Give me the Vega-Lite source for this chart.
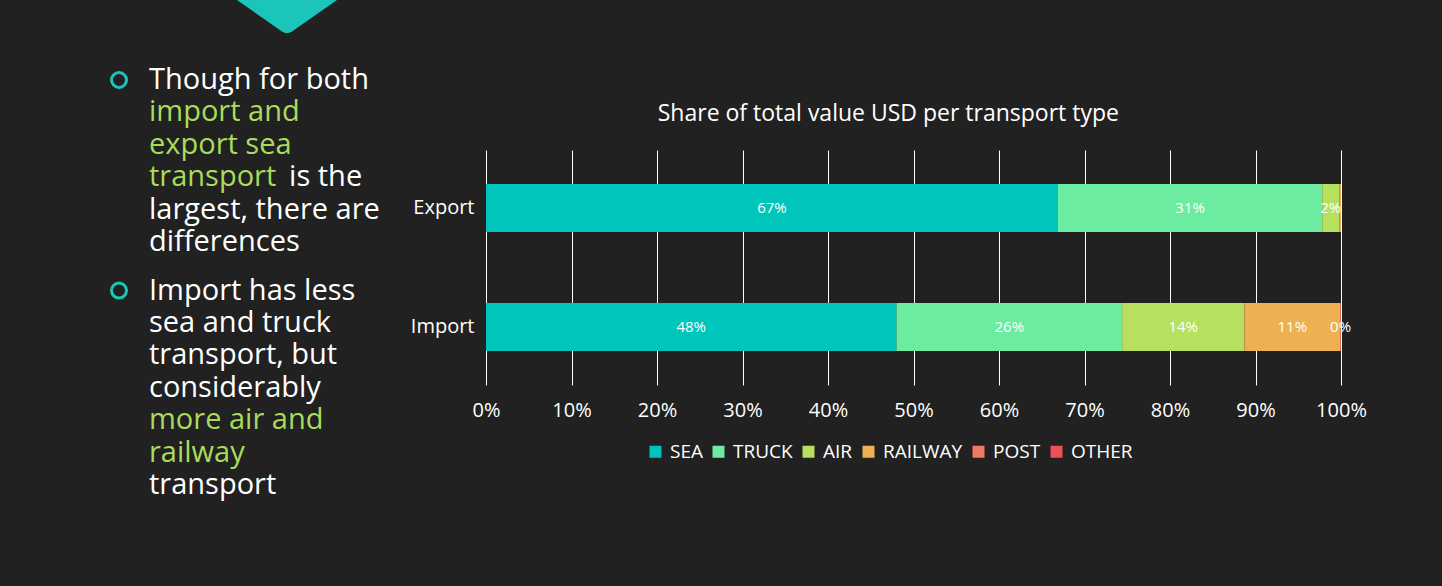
{
  "$schema": "https://vega.github.io/schema/vega-lite/v6.json",
  "background": "#212121",
  "padding": {"left": 89, "top": 0, "right": 90, "bottom": 10},
  "autosize": {"type": "pad"},
  "spacing": 0,
  "bounds": "flush",
  "resolve": {"scale": {"color": "independent"}, "legend": {"color": "independent"}},
  "config": {
    "view": {"stroke": null},
    "font": "Open Sans",
    "text": {"font": "Open Sans"}
  },
  "datasets": {
    "bars": [
      {"flow": "Export", "mode": "SEA", "ord": 1, "pct": 66.9},
      {"flow": "Export", "mode": "TRUCK", "ord": 2, "pct": 30.9},
      {"flow": "Export", "mode": "AIR", "ord": 3, "pct": 2.0},
      {"flow": "Export", "mode": "RAILWAY", "ord": 4, "pct": 0.2},
      {"flow": "Import", "mode": "SEA", "ord": 1, "pct": 48.0},
      {"flow": "Import", "mode": "TRUCK", "ord": 2, "pct": 26.4},
      {"flow": "Import", "mode": "AIR", "ord": 3, "pct": 14.3},
      {"flow": "Import", "mode": "RAILWAY", "ord": 4, "pct": 11.2},
      {"flow": "Import", "mode": "POST", "ord": 5, "pct": 0.1}
    ],
    "notes": [
      {"line": 0, "text": "Though for both", "style": "plain", "part": 1},
      {"line": 1, "text": "import and", "style": "highlight", "part": 1},
      {"line": 2, "text": "export sea", "style": "highlight", "part": 1},
      {"line": 3, "text": "transport", "style": "highlight", "part": 1},
      {"line": 3, "text": "is the", "style": "plain", "part": 2},
      {"line": 4, "text": "largest, there are", "style": "plain", "part": 1},
      {"line": 5, "text": "differences", "style": "plain", "part": 1},
      {"line": 6.5, "text": "Import has less", "style": "plain", "part": 1},
      {"line": 7.5, "text": "sea and truck", "style": "plain", "part": 1},
      {"line": 8.5, "text": "transport, but", "style": "plain", "part": 1},
      {"line": 9.5, "text": "considerably", "style": "plain", "part": 1},
      {"line": 10.5, "text": "more air and", "style": "highlight", "part": 1},
      {"line": 11.5, "text": "railway", "style": "highlight", "part": 1},
      {"line": 12.5, "text": "transport", "style": "plain", "part": 1}
    ],
    "bullets": [
      {"line": 0},
      {"line": 6.5}
    ]
  },
  "hconcat": [
    {
      "width": 397,
      "height": 436,
      "layer": [
        {
          "data": {"values": [{"shape": "chevron"}]},
          "mark": {
            "type": "point",
            "shape": "M-1,0L1,0L0.1,0.63Q0,0.7,-0.1,0.63Z",
            "filled": true,
            "opacity": 1,
            "color": "#1cc5b9",
            "size": 10000,
            "strokeWidth": 0
          },
          "encoding": {
            "x": {"datum": 6.6, "type": "quantitative", "scale": {"domain": [0, 13.2333], "nice": false, "zero": false}, "axis": null},
            "y": {"datum": -2.469, "type": "quantitative", "scale": {"domain": [2.1605, 15.6173], "nice": false, "zero": false, "reverse": true}, "axis": null}
          }
        },
        {
          "data": {"name": "bullets"},
          "mark": {"type": "point", "shape": "circle", "filled": false, "opacity": 1, "color": "#1cc5b9", "strokeWidth": 3, "size": 225},
          "encoding": {
            "x": {"datum": 1, "type": "quantitative", "scale": {"domain": [0, 13.2333], "nice": false, "zero": false}, "axis": null},
            "y": {"field": "line", "type": "quantitative", "scale": {"domain": [2.1605, 15.6173], "nice": false, "zero": false, "reverse": true}, "axis": null}
          }
        },
        {
          "data": {"name": "notes"},
          "transform": [{"filter": "datum.style == 'plain' && datum.part == 1"}],
          "mark": {"type": "text", "align": "left", "baseline": "middle", "fontSize": 29, "color": "#ffffff"},
          "encoding": {
            "x": {"datum": 2, "type": "quantitative", "scale": {"domain": [0, 13.2333], "nice": false, "zero": false}, "axis": null},
            "y": {"field": "line", "type": "quantitative", "scale": {"domain": [2.1605, 15.6173], "nice": false, "zero": false, "reverse": true}, "axis": null},
            "text": {"field": "text"}
          }
        },
        {
          "data": {"name": "notes"},
          "transform": [{"filter": "datum.part == 2"}],
          "mark": {"type": "text", "align": "left", "baseline": "middle", "fontSize": 29, "color": "#ffffff"},
          "encoding": {
            "x": {"datum": 6.67, "type": "quantitative", "scale": {"domain": [0, 13.2333], "nice": false, "zero": false}, "axis": null},
            "y": {"field": "line", "type": "quantitative", "scale": {"domain": [2.1605, 15.6173], "nice": false, "zero": false, "reverse": true}, "axis": null},
            "text": {"field": "text"}
          }
        },
        {
          "data": {"name": "notes"},
          "transform": [{"filter": "datum.style == 'highlight'"}],
          "mark": {"type": "text", "align": "left", "baseline": "middle", "fontSize": 29, "color": "#a8dc5a"},
          "encoding": {
            "x": {"datum": 2, "type": "quantitative", "scale": {"domain": [0, 13.2333], "nice": false, "zero": false}, "axis": null},
            "y": {"field": "line", "type": "quantitative", "scale": {"domain": [2.1605, 15.6173], "nice": false, "zero": false, "reverse": true}, "axis": null},
            "text": {"field": "text"}
          }
        }
      ]
    },
    {
      "width": 855,
      "height": 235,
      "title": {
        "text": "Share of total value USD per transport type",
        "color": "#ffffff",
        "fontSize": 23,
        "fontWeight": "normal",
        "font": "Open Sans",
        "anchor": "middle",
        "frame": "bounds",
        "offset": 24
      },
      "data": {"name": "bars"},
      "transform": [
        {"stack": "pct", "groupby": ["flow"], "sort": [{"field": "ord", "order": "ascending"}], "as": ["x0", "x1"]},
        {"calculate": "(datum.x0 + datum.x1) / 2", "as": "xm"},
        {"calculate": "format(datum.pct, '.0f') + '%'", "as": "lbl"}
      ],
      "layer": [
        {
          "mark": {"type": "bar"},
          "encoding": {
            "x": {
              "field": "x0",
              "type": "quantitative",
              "scale": {"domain": [0, 100], "nice": false},
              "axis": {
                "values": [0, 10, 20, 30, 40, 50, 60, 70, 80, 90, 100],
                "labelExpr": "datum.value + '%'",
                "grid": true,
                "gridColor": "#ffffff",
                "gridOpacity": 1,
                "gridWidth": 1,
                "domain": false,
                "ticks": false,
                "labelColor": "#ffffff",
                "labelFontSize": 20,
                "labelPadding": 15,
                "labelFlush": false,
                "labelOverlap": false,
                "labelBound": false,
                "title": null
              }
            },
            "x2": {"field": "x1"},
            "y": {
              "field": "flow",
              "type": "nominal",
              "sort": ["Export", "Import"],
              "scale": {"paddingInner": 0.597, "paddingOuter": 0.286},
              "axis": {
                "title": null,
                "domain": false,
                "ticks": false,
                "grid": false,
                "labelColor": "#ffffff",
                "labelFontSize": 20,
                "labelPadding": 12
              }
            },
            "color": {
              "field": "mode",
              "type": "nominal",
              "scale": {
                "domain": ["SEA", "TRUCK", "AIR", "RAILWAY", "POST", "OTHER"],
                "range": ["#00c5bb", "#6ceca0", "#b7e05e", "#eeb152", "#f07962", "#ee4f58"]
              },
              "legend": {
                "title": null,
                "orient": "none",
                "legendX": 160,
                "legendY": 292,
                "direction": "horizontal",
                "symbolType": "square",
                "symbolSize": 144,
                "symbolStrokeWidth": 0,
                "symbolOpacity": 1,
                "labelColor": "#ffffff",
                "labelFontSize": 19,
                "labelOffset": 5,
                "columnPadding": 6
              }
            }
          }
        },
        {
          "transform": [{"filter": "!(datum.flow == 'Export' && datum.mode == 'RAILWAY')"}],
          "mark": {"type": "text", "color": "#ffffff", "fontSize": 15, "baseline": "middle"},
          "encoding": {
            "x": {"field": "xm", "type": "quantitative"},
            "y": {"field": "flow", "type": "nominal", "sort": ["Export", "Import"]},
            "text": {"field": "lbl"}
          }
        }
      ]
    }
  ]
}
